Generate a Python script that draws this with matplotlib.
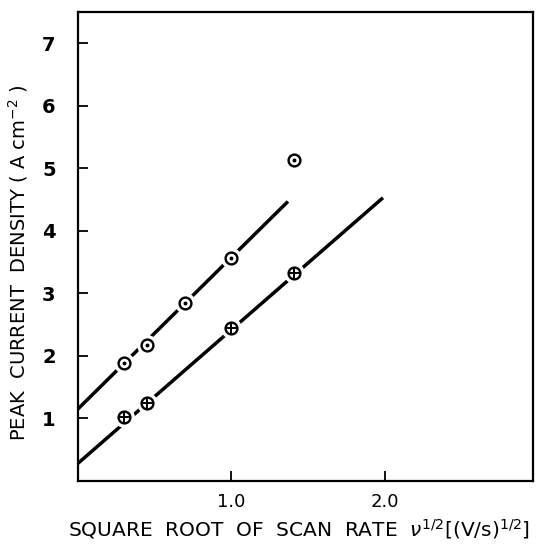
import numpy as np
import matplotlib.pyplot as plt

# data
x_dot = [0.3, 0.45, 0.7, 1.0, 1.41]
y_dot = [1.88, 2.17, 2.84, 3.56, 5.13]
x_plus = [0.3, 0.45, 1.0, 1.41]
y_plus = [1.03, 1.25, 2.45, 3.33]

# fitted lines (end points as drawn)
line_dot_x = [0.0, 1.37]
line_dot_y = [1.15, 4.47]
line_plus_x = [0.0, 1.99]
line_plus_y = [0.28, 4.53]

fig = plt.figure(figsize=(5.37, 5.49), dpi=100)
ax = fig.add_axes([0.145, 0.124, 0.848, 0.854])

ax.plot(line_dot_x, line_dot_y, color="black", lw=2.5, solid_capstyle="butt", zorder=2)
ax.plot(line_plus_x, line_plus_y, color="black", lw=2.5, solid_capstyle="butt", zorder=2)

# white halo so the lines break at the points
ax.plot(x_dot, y_dot, "o", ms=14, mfc="white", mec="white", zorder=3)
ax.plot(x_plus, y_plus, "o", ms=14, mfc="white", mec="white", zorder=3)

ax.plot(x_dot, y_dot, "o", ms=8.5, mfc="white", mec="black", mew=1.7, zorder=4)
ax.plot(x_dot, y_dot, "o", ms=1.8, mfc="black", mec="black", zorder=5)
ax.plot(x_plus, y_plus, "o", ms=8.5, mfc="white", mec="black", mew=1.7, zorder=4)
ax.plot(x_plus, y_plus, "+", ms=8.5, mec="black", mew=1.4, zorder=5)

ax.set_xlim(0, 2.97)
ax.set_ylim(0, 7.5)
ax.set_xticks([1.0, 2.0])
ax.set_xticklabels(["1.0", "2.0"], fontsize=13)
ax.set_yticks(range(1, 8))
ax.set_yticklabels([str(i) for i in range(1, 8)], fontsize=14, fontweight="bold")
ax.tick_params(direction="in", length=7, width=1.3, top=False, right=False)
ax.tick_params(axis="x", pad=9)
ax.tick_params(axis="y", pad=16)
for s in ax.spines.values():
    s.set_linewidth(1.6)

ax.set_xlabel(r"SQUARE  ROOT  OF  SCAN  RATE  $\nu^{1/2}$[(V/s)$^{1/2}$]", fontsize=14.5)
ax.xaxis.set_label_coords(0.486, -0.078)
ax.set_ylabel(r"PEAK  CURRENT  DENSITY ( A cm$^{-2}$ )", fontsize=14)
ax.yaxis.set_label_coords(-0.105, 0.466)

fig.savefig("out.png", dpi=100)
